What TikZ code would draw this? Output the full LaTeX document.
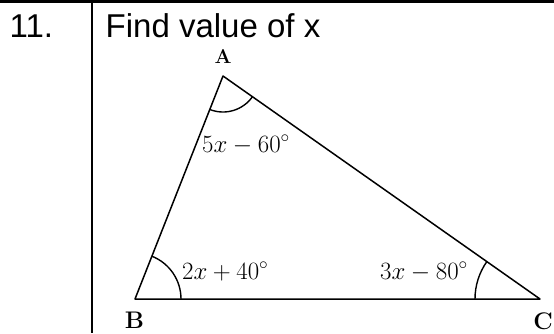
\documentclass[tikz,border=0pt]{standalone}
\usepackage{fontspec}
\newfontfamily\arialfont{Liberation Sans}
\usetikzlibrary{angles}
\begin{document}
\begin{tikzpicture}[x=1pt,y=1pt,
  tableline/.style={line width=2.6pt},
  triline/.style={line width=1.5pt, line join=round},
  arcline/.style={draw, line width=1.4pt},
  headtext/.style={anchor=base west, inner sep=0pt, font=\arialfont\fontsize{33}{36}\selectfont},
  anglabel/.style={anchor=base west, inner sep=0pt, font=\fontsize{26.5}{30}\selectfont},
  vertex/.style={inner sep=0pt, font=\bfseries\fontsize{24}{28}\selectfont}]
\useasboundingbox (0,0) rectangle (554,333);
% table
\coordinate (tl) at (0,331.5);
\coordinate (tr) at (554,331.5);
\coordinate (vt) at (92,333);
\coordinate (vb) at (92,0);
\draw[tableline] (tl) -- (tr);
\draw[line width=2.4pt] (vt) -- (vb);
\node[headtext] (num) at (9.5,296) {11.};
\node[headtext] (title) at (105.5,296) {Find value of x};
% triangle
\coordinate (A) at (223,257);
\coordinate (B) at (135,34);
\coordinate (C) at (540,34);
\draw[triline] (A) -- (B) -- (C) -- cycle;
\pic[arcline, angle radius=36pt] {angle = B--A--C};
\pic[arcline, angle radius=46pt] {angle = C--B--A};
\pic[arcline, angle radius=65pt] {angle = A--C--B};
\node[vertex, font=\bfseries\fontsize{20}{24}\selectfont] (la) at (223,277) {A};
\node[vertex] (lb) at (134.5,13) {B};
\node[vertex] (lc) at (543,12) {C};
\node[anglabel] (a1) at (202,181) {$5x - 60^\circ$};
\node[anglabel] (a2) at (182,54) {$2x + 40^\circ$};
\node[anglabel] (a3) at (380,54) {$3x - 80^\circ$};
\end{tikzpicture}
\end{document}
